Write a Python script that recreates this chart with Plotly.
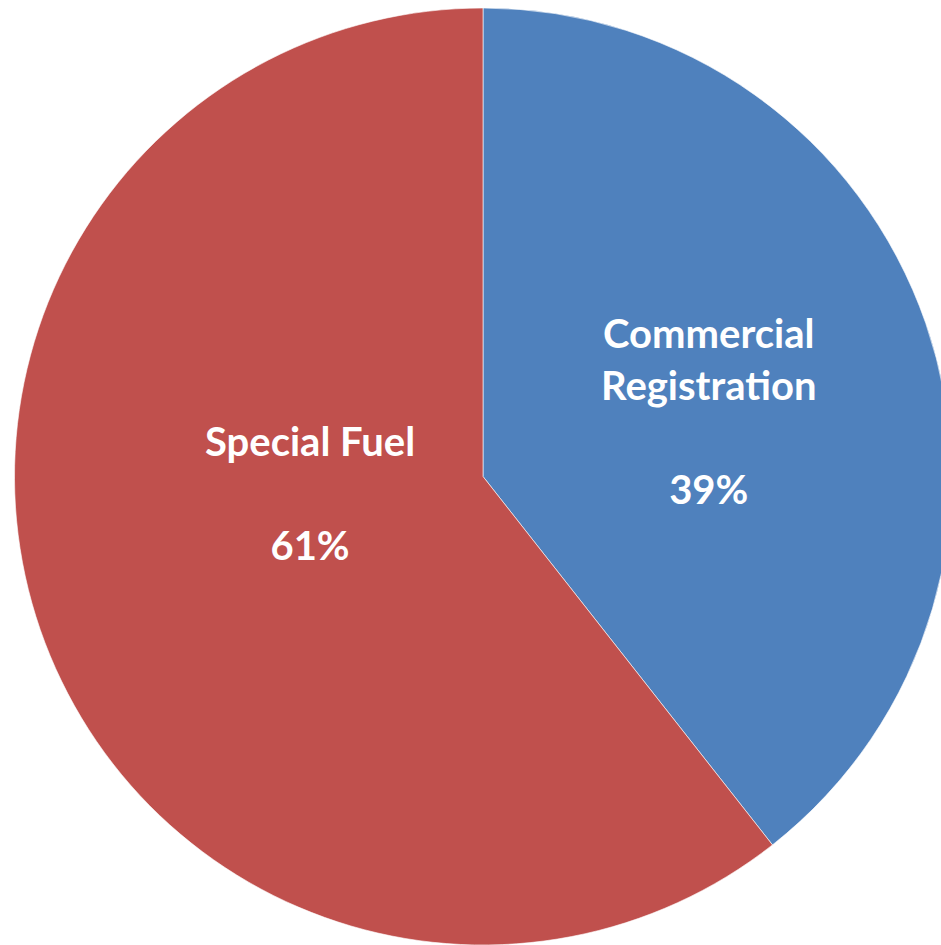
import plotly.graph_objects as go

categories = ["Commercial<br>Registration", "Special Fuel"]
values = [39.4, 60.6]
colors = ["#4F81BD", "#C0504D"]

# label block positions (paper coords) for each slice
label_pos = [(0.737, 0.570), (0.318, 0.482)]

total = sum(values)
fig = go.Figure(go.Pie(
    labels=categories,
    values=values,
    sort=False,
    direction="clockwise",
    rotation=0,
    marker=dict(colors=colors, line=dict(color="rgba(255,255,255,0.6)", width=1)),
    textinfo="none",
    hoverinfo="skip",
    showlegend=False,
    domain=dict(x=[0, 1], y=[0, 1]),
))

for cat, v, (px, py) in zip(categories, values, label_pos):
    pct = round(100 * v / total)
    fig.add_annotation(
        x=px, y=py, xref="paper", yref="paper",
        text=f"<b>{cat}<br> <br>{pct}%</b>",
        showarrow=False,
        font=dict(family="Lato", size=40, color="white"),
        align="center", xanchor="center", yanchor="middle",
    )

fig.update_layout(
    width=950, height=937,
    autosize=False,
    margin=dict(l=0, r=0, t=0, b=0),
    paper_bgcolor="white",
    plot_bgcolor="white",
)

fig.write_html(
    "out.html",
    post_script=(
        "document.documentElement.style.overflow='hidden';"
        "document.body.style.overflow='visible';"
        "document.body.style.margin='0';"
        "document.body.style.padding='8px 0 0 8px';"
    ),
)
